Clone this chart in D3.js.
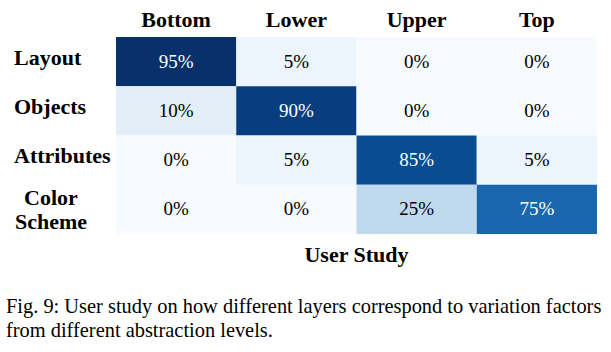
<!DOCTYPE html>
<html>
<head>
<meta charset="utf-8">
<script src="https://d3js.org/d3.v7.min.js"></script>
<style>
  body { margin: 0; background: #fff; }
</style>
</head>
<body>
<svg id="chart" width="611" height="352"></svg>
<script>
    // data
    const columns = ["Bottom", "Lower", "Upper", "Top"];
    const rows = ["Layout", "Objects", "Attributes", "Color Scheme"];
    const layout = [95, 5, 0, 0];
    const objects = [10, 90, 0, 0];
    const attributes = [0, 5, 85, 5];
    const colorScheme = [0, 0, 25, 75];
    const values = [layout, objects, attributes, colorScheme];

    const serif = "'Liberation Serif', 'Times New Roman', serif";
    const svg = d3.select("#chart").attr("font-family", serif);
    const gridLeft = 116, gridTop = 37, gridRight = 597, gridBottom = 234;

    const x = d3.scaleBand().domain(columns).range([gridLeft, gridRight]);
    const y = d3.scaleBand().domain(rows).range([gridTop, gridBottom]);
    const color = d3.scaleSequential(d3.interpolateBlues).domain([0, 95]);

    const cells = [];
    rows.forEach((r, i) => columns.forEach((c, j) => cells.push({row: r, col: c, v: values[i][j]})));

    svg.append("g").selectAll("rect")
        .data(cells).join("rect")
        .attr("x", d => x(d.col))
        .attr("y", d => y(d.row))
        .attr("width", x.bandwidth())
        .attr("height", y.bandwidth())
        .attr("fill", d => color(d.v));

    svg.append("g").selectAll("text")
        .data(cells).join("text")
        .attr("font-family", serif)
        .attr("x", d => x(d.col) + x.bandwidth() / 2)
        .attr("y", d => y(d.row) + y.bandwidth() / 2 + 6)
        .attr("text-anchor", "middle")
        .attr("font-size", 19)
        .attr("fill", d => d.v > 50 ? "#fff" : "#000")
        .text(d => d.v + "%");

    // column headers
    svg.append("g").selectAll("text")
        .data(columns).join("text")
        .attr("font-family", serif)
        .attr("x", d => x(d) + x.bandwidth() / 2)
        .attr("y", 27)
        .attr("text-anchor", "middle")
        .attr("font-size", 22)
        .attr("font-weight", "bold")
        .text(d => d);

    // row labels
    const rl = svg.append("g").selectAll("text")
        .data(rows).join("text")
        .attr("font-family", serif)
        .attr("font-size", 22)
        .attr("font-weight", "bold")
        .attr("y", d => y(d) + y.bandwidth() / 2 + 3);
    rl.filter(d => d !== "Color Scheme")
        .attr("x", 14)
        .text(d => d);
    rl.filter(d => d === "Color Scheme")
        .attr("y", null)
        .attr("text-anchor", "middle")
        .each(function(d) {
            const cy = y(d) + y.bandwidth() / 2;
            d3.select(this).append("tspan").attr("x", 51).attr("y", cy - 4.5).text("Color");
            d3.select(this).append("tspan").attr("x", 51).attr("y", cy + 19.5).text("Scheme");
        });

    svg.append("text")
        .attr("font-family", serif)
        .attr("x", (gridLeft + gridRight) / 2)
        .attr("y", 262)
        .attr("text-anchor", "middle")
        .attr("font-size", 22)
        .attr("font-weight", "bold")
        .text("User Study");

    // caption
    const cap = svg.append("text").attr("font-family", serif).attr("font-size", 20.4);
    cap.append("tspan").attr("x", 6).attr("y", 313)
        .text("Fig. 9: User study on how different layers correspond to variation factors");
    cap.append("tspan").attr("x", 6).attr("y", 337)
        .text("from different abstraction levels.");
</script>
</body>
</html>
